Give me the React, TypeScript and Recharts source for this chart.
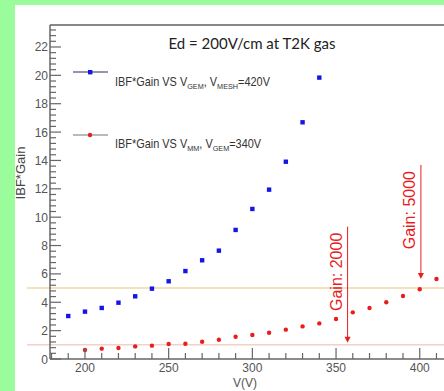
import React from 'react';
import { ScatterChart, Scatter, XAxis, YAxis, ReferenceLine } from 'recharts';

// IBF*Gain vs V_GEM (blue), V_MESH = 420V
const gemVoltage = [190, 200, 210, 220, 230, 240, 250, 260, 270, 280, 290, 300, 310, 320, 330, 340];
const gemGain = [3.03, 3.34, 3.6, 3.97, 4.42, 4.96, 5.48, 6.2, 6.96, 7.64, 9.1, 10.58, 11.94, 13.91, 16.69, 19.84];

// IBF*Gain vs V_MM (red), V_GEM = 340V
const mmVoltage = [200, 210, 220, 230, 240, 250, 260, 270, 280, 290, 300, 310, 320, 330, 340, 350, 360, 370, 380, 390, 400, 410];
const mmGain = [0.63, 0.73, 0.78, 0.89, 0.94, 1.06, 1.08, 1.22, 1.36, 1.57, 1.69, 1.85, 2.07, 2.3, 2.51, 2.82, 3.29, 3.6, 4.0, 4.44, 4.92, 5.64];

const xLabels = [200, 250, 300, 350, 400];
const yLabels = [0, 2, 4, 6, 8, 10, 12, 14, 16, 18, 20, 22];
const gainLevels = [1, 5];
const gainMarks = [
  { label: 'Gain: 2000', v: 356.9, from: 9.33, to: 1.22 },
  { label: 'Gain: 5000', v: 400.7, from: 13.68, to: 5.71 },
];

const W = 444;
const H = 391;
const X_MIN = 179.1;
const X_MAX = 414.5;
const Y_MAX = 23.55;

const GREEN = '#9bfc9b';
const AXIS = '#666';
const LABEL = '#555';
const BLUE = '#1515e6';
const RED = '#e81e1e';
const FONT = "'Liberation Sans', Arial, sans-serif";

const xTicks: number[] = [];
for (let v = 180; v <= 410; v += 10) xTicks.push(v);
const yTicks: number[] = [];
for (let i = 0; i <= 58; i++) yTicks.push(Math.round(i * 4) / 10);

const gemData = gemVoltage.map((v, i) => ({ v, g: gemGain[i] }));
const mmData = mmVoltage.map((v, i) => ({ v, g: mmGain[i] }));

const XTick = (props: any) => {
  const { x, y, payload } = props;
  const major = xLabels.includes(payload.value);
  return (
    <g>
      <line x1={x} x2={x} y1={y} y2={y - (major ? 11 : 6)} stroke={AXIS} strokeWidth={1.2} />
      {major && (
        <text x={x} y={y + 13} textAnchor="middle" fontSize={12} fontFamily={FONT} fill={LABEL}>
          {payload.value}
        </text>
      )}
    </g>
  );
};

const YTick = (props: any) => {
  const { x, y, payload } = props;
  const major = yLabels.includes(payload.value);
  return (
    <g>
      <line x1={x} x2={x + (major ? 11 : 6)} y1={y} y2={y} stroke={AXIS} strokeWidth={1.2} />
      {major && (
        <text x={x - 2} y={y + 4.5} textAnchor="end" fontSize={12} fontFamily={FONT} fill={LABEL}>
          {payload.value}
        </text>
      )}
    </g>
  );
};

const BlueSquare = (props: any) => <rect x={props.cx - 2.2} y={props.cy - 2.2} width={4.4} height={4.4} fill={BLUE} />;
const RedDot = (props: any) => <circle cx={props.cx} cy={props.cy} r={2.2} fill={RED} />;

const gainArrow = (label: string) => (p: any) => {
  const { x1, y1, x2, y2 } = p;
  return (
    <g>
      <line x1={x1} y1={y1} x2={x2} y2={y2 - 3} stroke={RED} strokeWidth={1} />
      <polygon points={`${x2 - 3},${y2 - 5} ${x2 + 3},${y2 - 5} ${x2},${y2 + 1}`} fill={RED} />
      <text
        x={x1 - 6}
        y={y1 + 6}
        transform={`rotate(-90 ${x1 - 6} ${y1 + 6})`}
        textAnchor="end"
        fontSize={16}
        fontFamily={FONT}
        fill={RED}
      >
        {label}
      </text>
    </g>
  );
};

const Overlay = () => (
  <svg width={W} height={H} style={{ position: 'absolute', left: 0, top: 0, pointerEvents: 'none' }}>
    <text x={252} y={49} textAnchor="middle" fontSize={15} fontFamily="Lato, sans-serif" fill="#222">
      Ed = 200V/cm at T2K gas
    </text>

    <line x1={73} x2={108} y1={72} y2={72} stroke="#2a2a5a" strokeWidth={1.2} />
    <rect x={88} y={70} width={4.4} height={4.4} fill={BLUE} />
    <text transform="translate(115 86) scale(0.91 1)" fontSize={12} fontFamily={FONT} fill="#333">
      IBF*Gain VS V<tspan dy={3} fontSize={8}>GEM</tspan>
      <tspan dy={-3}>, V</tspan>
      <tspan dy={3} fontSize={8}>MESH</tspan>
      <tspan dy={-3}>=420V</tspan>
    </text>

    <line x1={73} x2={108} y1={135} y2={135} stroke="#777" strokeWidth={1.2} />
    <circle cx={90} cy={135} r={2.2} fill={RED} />
    <text transform="translate(115 148) scale(0.91 1)" fontSize={12} fontFamily={FONT} fill="#333">
      IBF*Gain VS V<tspan dy={3} fontSize={8}>MM</tspan>
      <tspan dy={-3}>, V</tspan>
      <tspan dy={3} fontSize={8}>GEM</tspan>
      <tspan dy={-3}>=340V</tspan>
    </text>

    <text x={25} y={173} transform="rotate(-90 25 173)" textAnchor="middle" fontSize={13} fontFamily={FONT} fill="#444">
      IBF*Gain
    </text>
    <text x={245} y={387} textAnchor="middle" fontSize={12} fontFamily={FONT} fill="#555">
      V(V)
    </text>
  </svg>
);

export default function App() {
  return (
    <div style={{ position: 'absolute', left: 0, top: 0, width: W, height: H, background: GREEN, overflow: 'hidden' }}>
      <div style={{ position: 'absolute', left: 15, top: 5, right: 0, bottom: 0, background: '#fff' }} />
      <div style={{ position: 'absolute', left: 0, top: 0 }}>
        <ScatterChart width={W} height={H} margin={{ top: 25, right: 0, bottom: 0, left: 0 }}>
          <XAxis
            type="number"
            dataKey="v"
            domain={[X_MIN, X_MAX]}
            allowDataOverflow
            ticks={xTicks}
            interval={0}
            height={32}
            tickSize={0}
            tickMargin={0}
            tickLine={false}
            tick={<XTick />}
            axisLine={{ stroke: AXIS, strokeWidth: 1.5 }}
          />
          <YAxis
            type="number"
            dataKey="g"
            domain={[0, Y_MAX]}
            allowDataOverflow
            ticks={yTicks}
            interval={0}
            width={50}
            tickSize={0}
            tickMargin={0}
            tickLine={false}
            tick={<YTick />}
            axisLine={{ stroke: AXIS, strokeWidth: 1.5 }}
          />
          <ReferenceLine y={Y_MAX} stroke="#888" strokeWidth={2} />
          <ReferenceLine
            segment={[{ x: 165.4, y: gainLevels[1] }, { x: X_MAX, y: gainLevels[1] }]}
            ifOverflow="visible"
            stroke="#f0d6a4"
            strokeWidth={1.5}
          />
          <ReferenceLine
            segment={[{ x: 165.4, y: gainLevels[0] }, { x: X_MAX, y: gainLevels[0] }]}
            ifOverflow="visible"
            stroke="#f2d2c6"
            strokeWidth={1.5}
          />
          <Scatter data={gemData} fill={BLUE} shape={<BlueSquare />} isAnimationActive={false} />
          <Scatter data={mmData} fill={RED} shape={<RedDot />} isAnimationActive={false} />
          {gainMarks.map((m) => (
            <ReferenceLine
              key={m.label}
              segment={[{ x: m.v, y: m.from }, { x: m.v, y: m.to }]}
              ifOverflow="visible"
              stroke={RED}
              shape={gainArrow(m.label)}
            />
          ))}
        </ScatterChart>
      </div>
      <Overlay />
    </div>
  );
}
